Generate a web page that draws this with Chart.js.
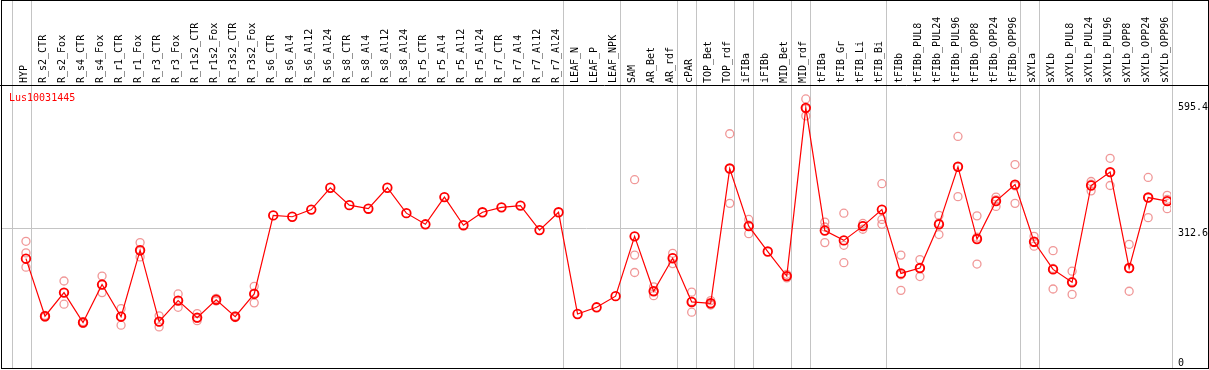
<!DOCTYPE html>
<html>
<head>
<meta charset="utf-8">
<script src="https://cdn.jsdelivr.net/npm/chart.js@4"></script>
<style>
  body { margin: 0; background: #fff; }
  #wrap { width: 1209px; height: 370px; position: relative; }
</style>
</head>
<body>
<div id="wrap"><canvas id="chart"></canvas></div>
<script>
// sample names, left to right
const categories = [
  'HYP', 'R_s2_CTR', 'R_s2_Fox', 'R_s4_CTR', 'R_s4_Fox', 'R_r1_CTR', 'R_r1_Fox', 'R_r3_CTR', 'R_r3_Fox',
  'R_r1s2_CTR', 'R_r1s2_Fox', 'R_r3s2_CTR', 'R_r3s2_Fox', 'R_s6_CTR', 'R_s6_Al4', 'R_s6_Al12', 'R_s6_Al24',
  'R_s8_CTR', 'R_s8_Al4', 'R_s8_Al12', 'R_s8_Al24', 'R_r5_CTR', 'R_r5_Al4', 'R_r5_Al12', 'R_r5_Al24',
  'R_r7_CTR', 'R_r7_Al4', 'R_r7_Al12', 'R_r7_Al24', 'LEAF_N', 'LEAF_P', 'LEAF_NPK', 'SAM', 'AR_Bet', 'AR_rdf',
  'cPAR', 'TOP_Bet', 'TOP_rdf', 'iFIBa', 'iFIBb', 'MID_Bet', 'MID_rdf', 'tFIBa', 'tFIB_Gr', 'tFIB_Li', 'tFIB_Bi',
  'tFIBb', 'tFIBb_PUL8', 'tFIBb_PUL24', 'tFIBb_PUL96', 'tFIBb_OPP8', 'tFIBb_OPP24', 'tFIBb_OPP96',
  'sXYLa', 'sXYLb', 'sXYLb_PUL8', 'sXYLb_PUL24', 'sXYLb_PUL96', 'sXYLb_OPP8', 'sXYLb_OPP24', 'sXYLb_OPP96'
];

// mean expression (red line)
const meanValues = [
  245, 116, 169, 102, 187, 115, 264, 104, 151, 113, 153, 115, 166,
  342, 339, 355, 404, 365, 357, 404, 347, 322, 383, 320, 349, 360, 364, 309, 349,
  121, 136, 161, 295, 172, 246, 148, 145, 447, 318, 261, 206, 583,
  308, 286, 318, 355, 212, 224, 322, 451, 289, 374, 411,
  283, 221, 192, 409, 439, 224, 382, 374
];

// replicates (pink circles), null where none is shown
const rep1 = [
  284, 118, 195, 104, 206, 133, 281, 117, 166, 122, 156, 117, 183,
  null, null, null, null, null, null, null, null, null, null, null, null, null, null, null, null,
  null, null, null, 422, 182, 257, 170, 151, 525, 333, null, 210, 603,
  327, 347, 324, 413, 253, 243, 342, 519, 341, 383, 456,
  295, 263, 217, 418, 470, 277, 427, 387
];
const rep2 = [
  258, 114, 143, 100, 169, 96, 249, 92, 136, 106, 150, 113, 146,
  null, null, null, null, null, null, null, null, null, null, null, null, null, null, null, null,
  null, null, null, 253, 162, 234, 125, 141, 369, 301, null, 202, 565,
  281, 275, 311, 333, 174, 205, 299, 384, 233, 362, 369,
  273, 177, 165, 397, 409, 172, 337, 357
];
const rep3 = [
  226, 116, 169, 102, 187, 116, 262, 103, 151, 111, 153, 115, 168,
  null, null, null, null, null, null, null, null, null, null, null, null, null, null, null, null,
  null, null, null, 214, 172, 247, 149, 143, 447, 320, null, 206, 581,
  316, 236, 319, 322, 209, 224, 325, 450, 293, 377, 408,
  281, 223, 194, 412, 438, 223, 382, 378
];

const yTicks = [0, 312.6, 595.4];
const geneName = 'Lus10031445';

// last sample index of each group (separator drawn after it)
const groupEnds = [-1, 0, 28, 31, 34, 35, 37, 38, 40, 41, 45, 52, 53, 60];

const toPoints = (arr) => arr.map((v, i) => ({ x: i, y: v }));

const frame = {
    id: 'frame',
    beforeDatasetsDraw(chart) {
        const { ctx, chartArea, scales } = chart;
        ctx.save();
        ctx.strokeStyle = '#c4c4c4';
        ctx.lineWidth = 1;
        groupEnds.forEach((g) => {
            const px = Math.round(scales.x.getPixelForValue(g + 0.24)) + 0.5;
            ctx.beginPath();
            ctx.moveTo(px, 0);
            ctx.lineTo(px, chartArea.bottom);
            ctx.stroke();
        });
        ctx.restore();
    },
    afterDraw(chart) {
        const { ctx, chartArea } = chart;
        ctx.save();
        ctx.strokeStyle = '#000';
        ctx.lineWidth = 1;
        ctx.strokeRect(1.5, 0.5, 1207, Math.round(chartArea.bottom));
        ctx.beginPath();
        ctx.moveTo(0, Math.round(chartArea.top) - 0.5);
        ctx.lineTo(1209, Math.round(chartArea.top) - 0.5);
        ctx.stroke();
        ctx.fillStyle = '#ff0000';
        ctx.font = '10px "DejaVu Sans Mono"';
        ctx.textBaseline = 'middle';
        ctx.fillText(geneName, 9, chartArea.top + 12);
        ctx.restore();
    }
};

const repStyle = {
    type: 'line',
    showLine: false,
    pointStyle: 'circle',
    pointRadius: 4,
    pointBorderWidth: 1.3,
    pointBorderColor: 'rgba(238,140,140,0.9)',
    pointBackgroundColor: 'rgba(0,0,0,0)',
    order: 2,
};

new Chart(document.getElementById('chart'), {
    type: 'line',
    data: {
        datasets: [
            { ...repStyle, label: 'rep1', data: toPoints(rep1) },
            { ...repStyle, label: 'rep2', data: toPoints(rep2) },
            { ...repStyle, label: 'rep3', data: toPoints(rep3) },
            {
                label: 'mean',
                data: toPoints(meanValues),
                borderColor: '#ff0000',
                borderWidth: 1.2,
                pointStyle: 'circle',
                pointRadius: 4.3,
                pointBorderWidth: 1.8,
                pointBorderColor: '#ff0000',
                pointBackgroundColor: 'rgba(0,0,0,0)',
                tension: 0,
                order: 1,
            },
        ],
    },
    options: {
        responsive: true,
        maintainAspectRatio: false,
        animation: false,
        layout: { autoPadding: false, padding: { left: 2, right: 1, top: 0, bottom: 2 } },
        plugins: {
            legend: { display: false },
            tooltip: { enabled: false },
        },
        scales: {
            x: {
                type: 'linear',
                position: 'top',
                min: -1.26,
                max: 60.2,
                afterBuildTicks: (scale) => {
                    scale.ticks = categories.map((c, i) => ({ value: i }));
                },
                afterFit: (scale) => {
                    scale.height = 86;
                    scale.paddingLeft = 0;
                    scale.paddingRight = 0;
                },
                grid: { display: false, drawTicks: false },
                border: { display: false },
                ticks: {
                    autoSkip: false,
                    minRotation: 90,
                    maxRotation: 90,
                    padding: 3,
                    labelOffset: 10,
                    color: '#000',
                    font: { family: 'DejaVu Sans Mono', size: 10 },
                    callback: (v) => categories[v],
                },
            },
            y: {
                position: 'right',
                min: 0,
                max: 632,
                afterBuildTicks: (scale) => {
                    scale.ticks = yTicks.map((v) => ({ value: v }));
                },
                afterFit: (scale) => {
                    scale.width = 37;
                    scale.paddingTop = 0;
                    scale.paddingBottom = 0;
                },
                grid: {
                    drawTicks: false,
                    color: (c) => (c.tick && c.tick.value === 312.6 ? '#c4c4c4' : 'rgba(0,0,0,0)'),
                },
                border: { display: false },
                ticks: {
                    padding: 7,
                    color: '#000',
                    font: { family: 'DejaVu Sans Mono', size: 10, lineHeight: 1 },
                    callback: (v) => (v === 0 ? ['0', ''] : ['', String(v)]),
                },
            },
        },
    },
    plugins: [frame],
});
</script>
</body>
</html>
